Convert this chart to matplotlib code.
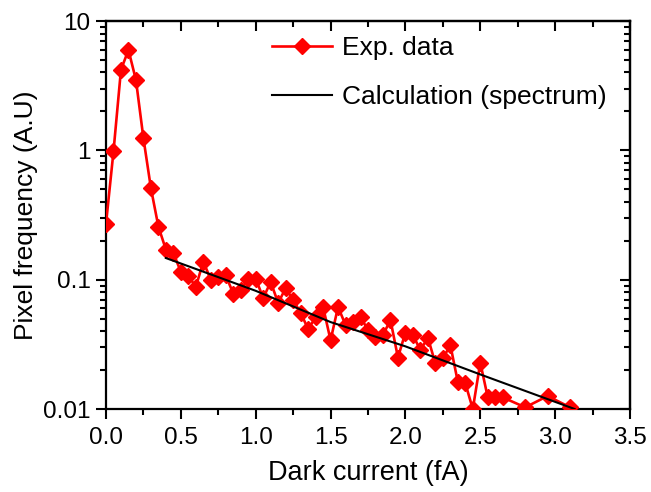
import matplotlib
matplotlib.use("Agg")
import matplotlib.pyplot as plt
from matplotlib.ticker import FixedLocator, FixedFormatter, LogLocator, NullFormatter, MultipleLocator

plt.rcParams['font.family'] = ['Liberation Sans', 'DejaVu Sans']

exp_x = [0.0, 0.05, 0.10, 0.15, 0.20, 0.25, 0.30, 0.35, 0.40, 0.45,
         0.50, 0.55, 0.60, 0.65, 0.70, 0.75, 0.80, 0.85, 0.90, 0.95,
         1.00, 1.05, 1.10, 1.15, 1.20, 1.25, 1.30, 1.35, 1.40, 1.45,
         1.50, 1.55, 1.60, 1.65, 1.70, 1.75, 1.80, 1.85, 1.90, 1.95,
         2.00, 2.05, 2.10, 2.15, 2.20, 2.25, 2.30, 2.35, 2.40, 2.45,
         2.50, 2.55, 2.60, 2.65, 2.80, 2.95, 3.10]
exp_y = [0.27, 0.98, 4.2, 5.97, 3.5, 1.24, 0.51, 0.257, 0.171, 0.161,
         0.115, 0.107, 0.088, 0.138, 0.100, 0.105, 0.108, 0.078, 0.083, 0.102,
         0.102, 0.072, 0.096, 0.066, 0.086, 0.0695, 0.0555, 0.0415, 0.051, 0.0616,
         0.034, 0.0616, 0.0446, 0.0472, 0.0516, 0.0407, 0.036, 0.0373, 0.0488, 0.025,
         0.039, 0.0373, 0.0285, 0.0356, 0.0225, 0.0246, 0.0312, 0.0162, 0.0158, 0.010,
         0.0228, 0.0123, 0.0123, 0.0123, 0.0103, 0.0126, 0.0103]

# Calculated spectrum
calc_x = [0.40, 1.00, 1.50, 2.00, 2.50, 3.13]
calc_y = [0.147, 0.082, 0.047, 0.0305, 0.0185, 0.010]

ytick_vals = [0.01, 0.1, 1, 10]
ytick_labels = ["0.01", "0.1", "1", "10"]

fig = plt.figure(figsize=(6.51, 4.92), dpi=100)
ax = fig.add_axes([106 / 651, 1 - 409 / 492, (630 - 106) / 651, (409 - 21) / 492])

ax.plot(exp_x, exp_y, color='red', lw=1.9, marker='D', markersize=8,
        label='Exp. data', zorder=3)
ax.plot(calc_x, calc_y, color='black', lw=1.5, label='Calculation (spectrum)', zorder=4)

ax.set_yscale('log')
ax.set_xlim(0, 3.5)
ax.set_ylim(0.01, 10)

ax.xaxis.set_major_locator(MultipleLocator(0.5))
ax.xaxis.set_minor_locator(MultipleLocator(0.25))
ax.xaxis.set_major_formatter(matplotlib.ticker.FormatStrFormatter('%.1f'))
ax.yaxis.set_major_locator(FixedLocator(ytick_vals))
ax.yaxis.set_major_formatter(FixedFormatter(ytick_labels))
ax.yaxis.set_minor_locator(LogLocator(base=10, subs=range(2, 10)))
ax.yaxis.set_minor_formatter(NullFormatter())

for s in ax.spines.values():
    s.set_linewidth(1.6)

ax.tick_params(which='both', labelsize=17.5, width=1.5)
ax.tick_params(which='major', length=7)
ax.tick_params(which='minor', length=4)
ax.tick_params(axis='x', which='both', direction='out', bottom=True, pad=6)
ax.tick_params(axis='y', which='both', direction='out', left=True, pad=4)

# top and right ticks point inward
axt = ax.secondary_xaxis('top')
axt.xaxis.set_major_locator(MultipleLocator(0.5))
axt.xaxis.set_minor_locator(MultipleLocator(0.25))
axt.tick_params(which='both', direction='in', width=1.5, labeltop=False)
axt.tick_params(which='major', length=7)
axt.tick_params(which='minor', length=4)
axt.spines['top'].set_linewidth(1.6)

axr = ax.secondary_yaxis('right')
axr.yaxis.set_major_locator(FixedLocator(ytick_vals))
axr.yaxis.set_minor_locator(LogLocator(base=10, subs=range(2, 10)))
axr.yaxis.set_minor_formatter(NullFormatter())
axr.tick_params(which='both', direction='in', width=1.5, labelright=False)
axr.tick_params(which='major', length=7)
axr.tick_params(which='minor', length=4)
axr.spines['right'].set_linewidth(1.6)

ax.set_xlabel('Dark current (fA)', fontsize=19.5, labelpad=8)
ax.set_ylabel('Pixel frequency (A.U)', fontsize=19, labelpad=4)

ax.legend(loc='upper left', bbox_to_anchor=(0.317, 0.962), frameon=False, fontsize=19,
          numpoints=1, handlelength=2.27, labelspacing=0.95, handletextpad=0.38,
          borderpad=0, borderaxespad=0)

fig.savefig('out.png', dpi=100)
